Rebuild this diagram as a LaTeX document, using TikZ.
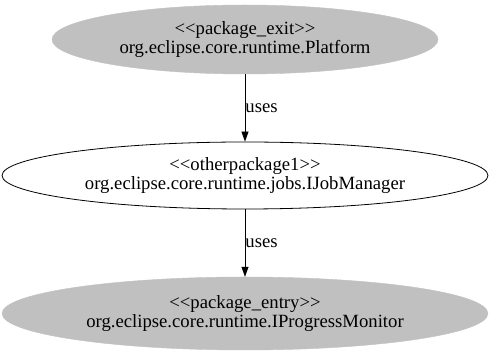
\documentclass[tikz,border=0pt]{standalone}
\usepackage{fontspec}
\setmainfont{Liberation Serif}[Ligatures=TeXOff]
\usetikzlibrary{shapes.geometric,arrows.meta}
\definecolor{pkggray}{RGB}{192,192,192}
\begin{document}
\begin{tikzpicture}[x=1pt,y=-1pt,
  pkg/.style={ellipse, inner sep=0pt, align=center, font=\fontsize{18.7}{19.5}\selectfont},
  outside/.style={pkg, fill=pkggray, draw=pkggray},
  inside/.style={pkg, draw=black, line width=0.8pt},
  uses/.style={draw=black, line width=0.8pt, -{Triangle[length=10pt,width=7pt]}},
  edgelabel/.style={font=\fontsize{18.7}{19.5}\selectfont, anchor=west, inner sep=0pt}]
  \useasboundingbox (0,0) rectangle (491,352);
  \node[outside, minimum width=386pt, minimum height=69pt] (platform) at (245,39.5)
    {<<package\_exit>>\\org.eclipse.core.runtime.Platform};
  \node[inside, minimum width=486pt, minimum height=67pt] (jobs) at (245,175.5)
    {<<otherpackage1>>\\org.eclipse.core.runtime.jobs.IJobManager};
  \node[outside, minimum width=486pt, minimum height=73pt] (monitor) at (245,313.5)
    {<<package\_entry>>\\org.eclipse.core.runtime.IProgressMonitor};
  \draw[uses] (platform) -- node[edgelabel, pos=0.5] {uses} (jobs);
  \draw[uses] (jobs) -- node[edgelabel, pos=0.5] {uses} (monitor);
\end{tikzpicture}
\end{document}
